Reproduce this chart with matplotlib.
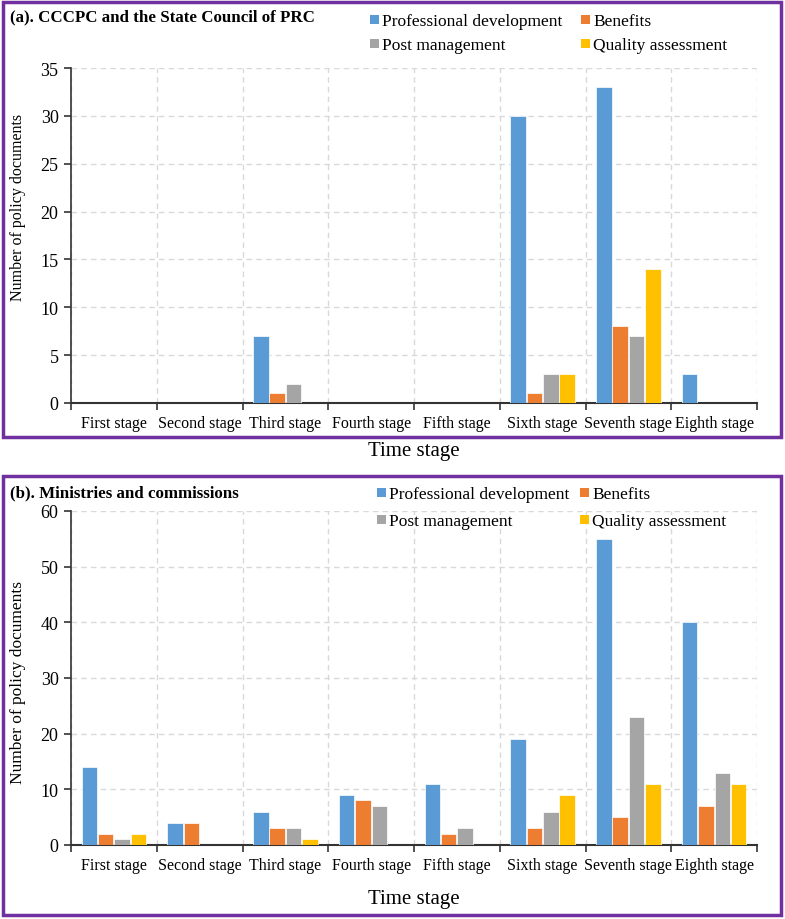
import numpy as np
import matplotlib.pyplot as plt
from matplotlib.patches import Rectangle

plt.rcParams['font.family'] = ['Liberation Serif', 'DejaVu Serif']

stages = ['First stage', 'Second stage', 'Third stage', 'Fourth stage',
          'Fifth stage', 'Sixth stage', 'Seventh stage', 'Eighth stage']
series = ['Professional development', 'Benefits', 'Post management', 'Quality assessment']
colors = ['#5B9BD5', '#ED7D31', '#A5A5A5', '#FFC000']

# panel (a): CCCPC and the State Council
a_prof = [0, 0, 7, 0, 0, 30, 33, 3]
a_ben = [0, 0, 1, 0, 0, 1, 8, 0]
a_post = [0, 0, 2, 0, 0, 3, 7, 0]
a_qual = [0, 0, 0, 0, 0, 3, 14, 0]

# panel (b): Ministries and commissions
b_prof = [14, 4, 6, 9, 11, 19, 55, 40]
b_ben = [2, 4, 3, 8, 2, 3, 5, 7]
b_post = [1, 0, 3, 7, 3, 6, 23, 13]
b_qual = [2, 0, 1, 0, 0, 9, 11, 11]

W, H = 785, 920
fig = plt.figure(figsize=(W / 100, H / 100), dpi=100)


def legend(cols_x, rows_y):
    # 2x2 legend, row-wise: small square marker then label
    for k, (c, s) in enumerate(zip(colors, series)):
        mx = cols_x[k % 2]
        my = rows_y[k // 2]
        fig.patches.append(Rectangle((mx / W, 1 - (my + 4.5) / H), 9 / W, 9 / H,
                                     transform=fig.transFigure, facecolor=c, edgecolor='none'))
        fig.text((mx + 12) / W, 1 - my / H, s, fontsize=12.5, va='center_baseline')


def panel(rect, box, data, ymax, ystep, title, title_y, cols_x, rows_y, ylab_size, ylab_y, xlab_pad):
    # purple frame
    fig.patches.append(Rectangle((box[0] / W, 1 - box[3] / H), (box[2] - box[0]) / W,
                                 (box[3] - box[1]) / H, transform=fig.transFigure,
                                 fill=False, edgecolor='#7030A0', linewidth=2.5))
    ax = fig.add_axes(rect)
    x = np.arange(len(stages))
    w = 0.18
    for i, vals in enumerate(data):
        ax.bar(x + (i - 1.5) * w * 1.06, vals, width=w, color=colors[i],
               edgecolor='white', linewidth=0.5, zorder=3)
    ax.set_xlim(-0.5, 7.5)
    ax.set_ylim(0, ymax)
    ax.set_yticks(np.arange(0, ymax + 1, ystep))
    ax.set_xticks(x)
    ax.set_xticklabels(stages, fontsize=11.5)
    ax.set_xticks(np.arange(-0.5, 8, 1), minor=True)
    ax.tick_params(axis='x', which='major', length=0, pad=9)
    ax.tick_params(axis='x', which='minor', length=5, width=1.2, color='#333333')
    ax.tick_params(axis='y', length=5, width=1.2, color='#333333', labelsize=13, pad=4)
    ax.grid(axis='y', linestyle=(0, (4, 3)), color='#D9D9D9', linewidth=1, zorder=0)
    ax.grid(axis='x', which='minor', linestyle=(0, (4, 3)), color='#D9D9D9', linewidth=1, zorder=0)
    ax.spines['top'].set_visible(False)
    ax.spines['right'].set_visible(False)
    ax.spines['left'].set_color('#333333')
    ax.spines['bottom'].set_color('#333333')
    ax.spines['left'].set_linewidth(1.2)
    ax.spines['bottom'].set_linewidth(1.5)
    ax.set_xlabel('Time stage', fontsize=15, labelpad=xlab_pad)
    ax.set_ylabel('Number of policy documents', fontsize=ylab_size)
    # label anchor is its right edge after rotation
    ax.yaxis.set_label_coords(-(71 - 26) / (rect[2] * W),
                              (1 - ylab_y / H - rect[1]) / rect[3])
    fig.text(10 / W, 1 - title_y / H, title, fontsize=12.2, fontweight='bold', va='center')
    legend(cols_x, rows_y)
    return ax


panel([71 / W, 1 - 404 / H, 686 / W, 335 / H], (3, 3, 781, 438),
      [a_prof, a_ben, a_post, a_qual], 35, 5,
      '(a). CCCPC and the State Council of PRC', 17, (370, 581), (20, 44), 11.5, 207, 7)
panel([71 / W, 1 - 846 / H, 686 / W, 334 / H], (3, 477, 781, 916),
      [b_prof, b_ben, b_post, b_qual], 60, 10,
      '(b). Ministries and commissions', 493, (377, 580), (493, 520), 12.5, 683, 11)

fig.savefig('out.png', dpi=100)
